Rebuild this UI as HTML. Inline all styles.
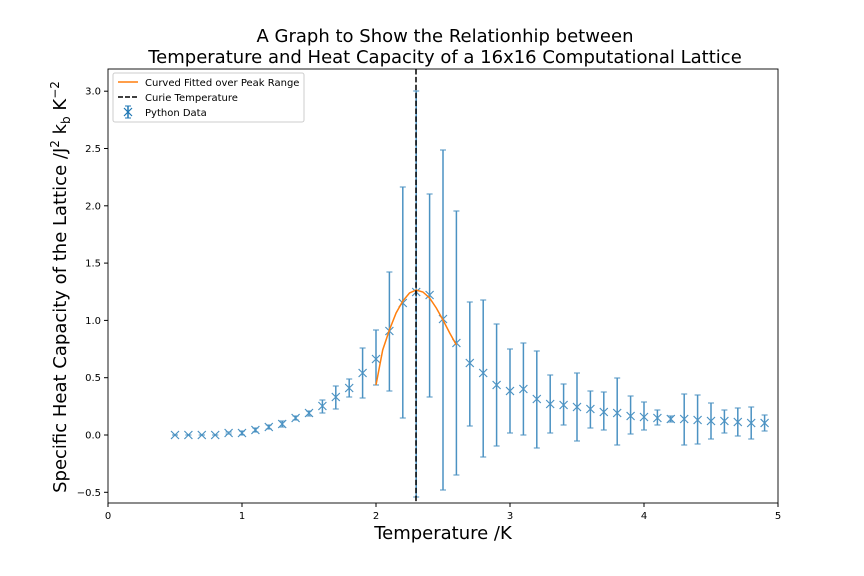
<!DOCTYPE html>
<html><head><meta charset="utf-8"><style>
body{margin:0;background:#fff;}
svg{display:block;font-family:"DejaVu Sans","Liberation Sans",sans-serif;}
</style></head><body>
<svg id="s" width="864" height="576" xmlns="http://www.w3.org/2000/svg">
<rect width="864" height="576" fill="#fff"/>
<text x="445" y="42" font-size="18" text-anchor="middle">A Graph to Show the Relationhip between</text>
<text x="445" y="63" font-size="18" text-anchor="middle">Temperature and Heat Capacity of a 16x16 Computational Lattice</text>
<text x="443" y="539" font-size="18" text-anchor="middle">Temperature /K</text>
<text transform="translate(66,287) rotate(-90)" font-size="18" text-anchor="middle">Specific Heat Capacity of the Lattice /J<tspan font-size="12" dy="-7">2</tspan><tspan dy="7"> k</tspan><tspan font-size="12" dy="4">b</tspan><tspan dy="-4"> K</tspan><tspan font-size="12" dy="-7">−2</tspan></text>
<g id="g"></g>
<rect x="108" y="69" width="670" height="434" fill="none" stroke="#000" stroke-width="0.9"/>
<g font-size="10">
<rect x="113" y="73" width="191" height="49" fill="#fff" stroke="#ccc" rx="2"/>
<line x1="118" y1="82" x2="138" y2="82" stroke="#ff7f0e" stroke-width="1.5"/>
<text x="145" y="86">Curved Fitted over Peak Range</text>
<line x1="118" y1="97" x2="138" y2="97" stroke="#000" stroke-width="1.5" stroke-dasharray="5,2"/>
<text x="145" y="101">Curie Temperature</text>
<line x1="128" y1="106" x2="128" y2="118" stroke="#1f77b4" stroke-width="1.5"/>
<line x1="125" y1="106" x2="131" y2="106" stroke="#1f77b4"/><line x1="125" y1="118" x2="131" y2="118" stroke="#1f77b4"/>
<path d="M124 108 L132 116 M132 108 L124 116" stroke="#1f77b4" stroke-width="1.2"/>
<text x="145" y="116">Python Data</text>
</g>
</svg>
<script>
var g=document.getElementById('g'),h='';
function X(t){return 108+134*t;}
function Y(v){return 435-114.6*v;}
// ticks
for(var i=0;i<=5;i++){var x=X(i);h+='<line x1="'+x+'" y1="503" x2="'+x+'" y2="507" stroke="#000"/><text x="'+x+'" y="519" font-size="10" text-anchor="middle">'+i+'</text>';}
var yl=['−0.5','0.0','0.5','1.0','1.5','2.0','2.5','3.0'];
for(var i=0;i<8;i++){var v=-0.5+i*0.5,y=Y(v);h+='<line x1="104" y1="'+y+'" x2="108" y2="'+y+'" stroke="#000"/><text x="101" y="'+(y+3.5)+'" font-size="10" text-anchor="end">'+yl[i]+'</text>';}
var d=[[435,435,435],[435,435,435],[435,435,435],[435,435,435],[433,432,434],[433,431,435],[430,428,432],[427,425,429],[424,421,427],[418,416,420],[413,411,416],[406,400,413],[397,386,409],[388,379,397],[373,348,398],[359,330,385],[331,272,391],[303,187,418],[292,91,497],[295,194,397],[319,150,490],[343,211,475],[363,302,426],[373,300,457],[385,324,446],[391,349,433],[389,343,435],[399,351,448],[404,375,433],[405,384,425],[407,373,441],[409,391,428],[412,392,430],[413,378,445],[416,396,434],[417,402,430],[418,410,425],[419,416,422],[419,394,445],[420,395,444],[421,403,439],[421,410,433],[422,408,436],[423,407,439],[423,415,431]];
for(var i=0;i<d.length;i++){var x=X(0.5+0.1*i),p=d[i];
h+='<g stroke="#1f77b4" opacity="0.8"><line x1="'+x+'" y1="'+p[1]+'" x2="'+x+'" y2="'+p[2]+'" stroke-width="1.5"/><line x1="'+(x-3)+'" y1="'+p[1]+'" x2="'+(x+3)+'" y2="'+p[1]+'"/><line x1="'+(x-3)+'" y1="'+p[2]+'" x2="'+(x+3)+'" y2="'+p[2]+'"/>';
h+='<path d="M'+(x-4)+' '+(p[0]-4)+' L'+(x+4)+' '+(p[0]+4)+' M'+(x+4)+' '+(p[0]-4)+' L'+(x-4)+' '+(p[0]+4)+'" stroke-width="1.2"/></g>';}
var c=[[2.0,385],[2.05,350],[2.1,330],[2.15,313],[2.2,301],[2.25,293],[2.3,290],[2.35,292],[2.4,298],[2.45,308],[2.5,320],[2.55,333],[2.6,345]];
h+='<polyline fill="none" stroke="#ff7f0e" stroke-width="1.5" points="'+c.map(function(q){return X(q[0])+','+q[1];}).join(' ')+'"/>';
h+='<line x1="416" y1="69" x2="416" y2="503" stroke="#000" stroke-width="1.5" stroke-dasharray="5.5,2.4"/>';
g.innerHTML=h;
</script>
</body></html>
